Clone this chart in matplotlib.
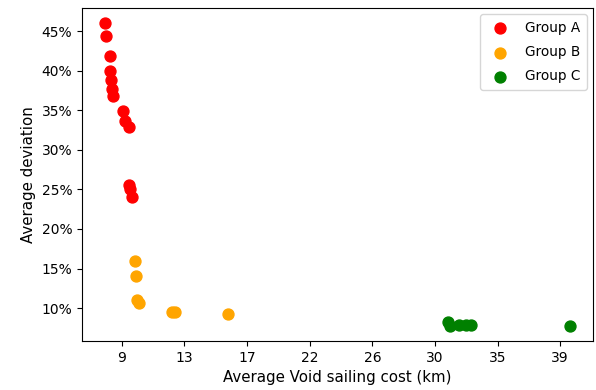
import matplotlib.pyplot as plt
from matplotlib.ticker import PercentFormatter

# Group A
a_cost = [7.66, 7.73, 7.96, 8.00, 8.05, 8.12, 8.20, 8.85, 9.03, 9.26, 9.30, 9.35, 9.48]
a_dev = [46.0, 44.4, 41.9, 40.0, 38.8, 37.7, 36.8, 34.95, 33.7, 32.9, 25.6, 25.1, 24.0]

# Group B
b_cost = [9.71, 9.80, 9.83, 9.96, 12.22, 12.43, 16.10]
b_dev = [15.98, 14.1, 11.05, 10.7, 9.47, 9.47, 9.28]

# Group C
c_cost = [31.23, 31.30, 31.92, 32.40, 32.80, 39.56]
c_dev = [8.27, 7.76, 7.9, 7.85, 7.85, 7.8]

xticks = [8.8, 13.1, 17.4, 21.7, 26.0, 30.3, 34.6, 38.9]

fig, ax = plt.subplots(figsize=(5.96, 3.9), dpi=100)
fig.subplots_adjust(left=0.1376, right=0.995, top=0.9795, bottom=0.1256)

ax.scatter(a_cost, a_dev, s=62, color="red", label="Group A")
ax.scatter(b_cost, b_dev, s=62, color="orange", label="Group B")
ax.scatter(c_cost, c_dev, s=62, color="green", label="Group C")

ax.set_xticks(xticks)
ax.set_xticklabels([f"{t:.0f}" for t in xticks])
ax.yaxis.set_major_formatter(PercentFormatter(decimals=0))
ax.tick_params(labelsize=10)

ax.set_xlabel("Average Void sailing cost (km)", fontsize=10.8)
ax.set_ylabel("Average deviation", fontsize=10.8)
ax.legend(loc="upper right", fontsize=9.8, labelspacing=0.75, borderpad=0.5,
          borderaxespad=0.45)

plt.savefig("out.png")
